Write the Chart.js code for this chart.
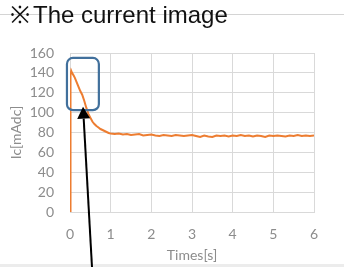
<!DOCTYPE html>
<html>
<head>
<meta charset="utf-8">
<script src="https://cdn.jsdelivr.net/npm/chart.js@4.4.0/dist/chart.umd.min.js"></script>
<style>
  html, body { margin: 0; padding: 0; background: #fff; }
  body { width: 344px; height: 267px; position: relative; overflow: hidden; }
  #topline { position: absolute; left: 0; top: 14px; width: 344px; height: 1px; background: #d4d4d4; }
  #band { position: absolute; left: 0; top: 264px; width: 344px; height: 3px; background: #ececec; }
  #title { position: absolute; left: 9px; top: 3px; font: 24px/23px "Liberation Sans", Arial, sans-serif; color: #111; white-space: nowrap; }
  #title .mark { display: inline-block; width: 22px; margin-right: 2px; text-align: center; }
  #wrap { position: absolute; left: 0; top: 0; width: 344px; height: 267px; }
</style>
</head>
<body>
<div id="topline"></div>
<div id="band"></div>
<div id="wrap"><canvas id="c" width="344" height="267"></canvas></div>
<div id="title"><span class="mark">※</span>The current image</div>
<script>
// ---- data ----
const times = [
  0, 0.005, 0.01, 0.015, 0.02, 0.03, 0.05, 0.08, 0.12, 0.16, 0.2, 0.25, 0.3, 0.35, 0.4, 0.45,
  0.5, 0.55, 0.6, 0.65, 0.7, 0.75, 0.8, 0.85, 0.9, 0.95, 1.0,
  1.1, 1.2, 1.3, 1.4, 1.5, 1.6, 1.7, 1.8, 1.9, 2.0,
  2.1, 2.2, 2.3, 2.4, 2.5, 2.6, 2.7, 2.8, 2.9, 3.0,
  3.1, 3.2, 3.3, 3.4, 3.5, 3.6, 3.7, 3.8, 3.9, 4.0,
  4.1, 4.2, 4.3, 4.4, 4.5, 4.6, 4.7, 4.8, 4.9, 5.0,
  5.1, 5.2, 5.3, 5.4, 5.5, 5.6, 5.7, 5.8, 5.9, 6.0
];
const currentIc = [
  0, 25, 70, 115, 138, 142, 140, 138, 135, 131, 127, 122, 118, 112, 105, 99,
  95, 91, 88.5, 86.5, 85, 83.5, 82.5, 81.5, 80.5, 79.5, 79,
  78.5, 79, 78, 78.5, 77.5, 78, 78.5, 77, 77.5, 78,
  77, 76.5, 77.5, 77, 76.5, 77.5, 77, 76.5, 77, 77.5,
  76.5, 75.5, 77, 76, 75.5, 77, 76.5, 77, 76, 77,
  76.5, 77.5, 76.5, 77, 76, 77, 76.5, 75.5, 77, 76.5,
  77, 76.5, 76, 77, 76.5, 77.5, 76.5, 77, 76.5, 77
];
const xTicks = [0, 1, 2, 3, 4, 5, 6];
const yTicks = [0, 20, 40, 60, 80, 100, 120, 140, 160];
const xTitle = "Times[s]";
const yTitle = "Ic[mAdc]";

// annotation (in data units)
const boxCorners = [-0.075, 155, 0.71, 102.5];
const arrowTip = [0.32, 106];
const arrowTail = [0.55, -62];

const points = times.map((t, i) => ({ x: t, y: currentIc[i] }));

const annot = {
  id: 'annot',
  afterDraw(chart) {
    const ctx = chart.ctx, xs = chart.scales.x, ys = chart.scales.y;
    const x1 = xs.getPixelForValue(boxCorners[0]), y1 = ys.getPixelForValue(boxCorners[1]);
    const x2 = xs.getPixelForValue(boxCorners[2]), y2 = ys.getPixelForValue(boxCorners[3]);
    ctx.save();
    ctx.strokeStyle = '#41709c';
    ctx.lineWidth = 2.2;
    ctx.beginPath();
    ctx.roundRect(x1, y1, x2 - x1, y2 - y1, 6);
    ctx.stroke();
    const tx = xs.getPixelForValue(arrowTip[0]), ty = ys.getPixelForValue(arrowTip[1]);
    const bx = xs.getPixelForValue(arrowTail[0]), by = ys.getPixelForValue(arrowTail[1]);
    const ang = Math.atan2(ty - by, tx - bx);
    const hl = 12, hw = 6.5;
    const hx = tx - hl * Math.cos(ang), hy = ty - hl * Math.sin(ang);
    ctx.strokeStyle = '#000';
    ctx.lineWidth = 2;
    ctx.beginPath();
    ctx.moveTo(bx, by);
    ctx.lineTo(hx, hy);
    ctx.stroke();
    ctx.fillStyle = '#000';
    ctx.beginPath();
    ctx.moveTo(tx, ty);
    ctx.lineTo(hx + hw * Math.sin(ang), hy - hw * Math.cos(ang));
    ctx.lineTo(hx - hw * Math.sin(ang), hy + hw * Math.cos(ang));
    ctx.closePath();
    ctx.fill();
    ctx.restore();
  }
};

const tickFont = { family: 'Lato, "Open Sans", sans-serif', size: 14 };
const gridColor = '#d9d9d9';
const textColor = '#8c8c8c';

new Chart(document.getElementById('c'), {
  type: 'line',
  data: {
    datasets: [{
      data: points,
      borderColor: '#ed7d31',
      borderWidth: 2,
      pointRadius: 0,
      tension: 0,
      fill: false
    }]
  },
  options: {
    responsive: false,
    animation: false,
    events: [],
    layout: { padding: { top: 53, right: 30, left: 0, bottom: 0 } },
    plugins: { legend: { display: false }, tooltip: { enabled: false } },
    scales: {
      x: {
        type: 'linear', min: 0, max: 6,
        afterBuildTicks: s => { s.ticks = xTicks.map(v => ({ value: v })); },
        afterFit: s => { s.height = 55; },
        grid: { color: gridColor, drawTicks: false },
        border: { color: gridColor },
        ticks: { font: tickFont, color: textColor, padding: 14, maxRotation: 0 },
        title: { display: true, text: xTitle, font: tickFont, color: textColor, padding: { top: 0, bottom: 3 } }
      },
      y: {
        type: 'linear', min: 0, max: 160,
        afterBuildTicks: s => { s.ticks = yTicks.map(v => ({ value: v })); },
        afterFit: s => { s.width = 70; },
        grid: { color: gridColor, drawTicks: false },
        border: { color: gridColor },
        ticks: { font: tickFont, color: textColor, padding: 16 },
        title: { display: true, text: yTitle, font: tickFont, color: textColor, padding: { top: 8, bottom: 0 } }
      }
    }
  },
  plugins: [annot]
});
</script>
</body>
</html>
